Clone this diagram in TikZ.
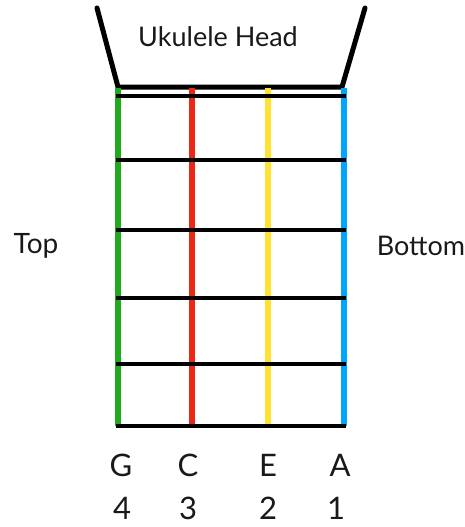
\documentclass[tikz,border=0pt]{standalone}
\usepackage{fontspec}
\setmainfont{Lato}
\definecolor{sgreen}{RGB}{34,170,30}
\definecolor{sred}{RGB}{235,40,20}
\definecolor{syellow}{RGB}{255,225,50}
\definecolor{sblue}{RGB}{0,165,255}
\begin{document}
\begin{tikzpicture}[x=1pt,y=-1pt,
  stringline/.style={line width=6pt},
  fretline/.style={line width=4pt,black},
  headline/.style={line width=5pt,black,line cap=round,line join=round},
  lbl/.style={font=\fontsize{27}{32}\selectfont,text=black!90,inner sep=0pt},
  big/.style={font=\fontsize{31}{36}\selectfont}]
\useasboundingbox (0,0) rectangle (465,527);
% head
\coordinate (hl) at (97,8);
\coordinate (hr) at (365,8);
\coordinate (nl) at (118,87);
\coordinate (nr) at (342,87);
\draw[headline] (hl) -- (nl) -- (nr) -- (hr);
\node[lbl] (head) at (218,37) {Ukulele Head};
% strings
\foreach \n/\x/\c in {g/118/sgreen,c/192/sred,e/268/syellow,a/344/sblue}{
  \coordinate (\n top) at (\x,88);
  \coordinate (\n bot) at (\x,426);
  \draw[stringline,\c] (\n top) -- (\n bot);
}
% frets
\foreach \i/\y in {1/96,2/160,3/230,4/298,5/364,6/426}{
  \coordinate (f\i l) at (116,\y);
  \coordinate (f\i r) at (346,\y);
  \draw[fretline] (f\i l) -- (f\i r);
}
% side labels
\node[lbl,font=\fontsize{28}{32}\selectfont] (top) at (36,246) {Top};
\node[lbl] (bottom) at (421,246) {Bottom};
% string labels
\node[lbl,big] (G) at (121,465) {G};
\node[lbl,big] (C) at (188,465) {C};
\node[lbl,big] (E) at (268,465) {E};
\node[lbl,big] (A) at (340,465) {A};
\node[lbl,big] (n4) at (122,508) {4};
\node[lbl,big] (n3) at (188,508) {3};
\node[lbl,big] (n2) at (268,508) {2};
\node[lbl,big] (n1) at (336,508) {1};
\end{tikzpicture}
\end{document}
